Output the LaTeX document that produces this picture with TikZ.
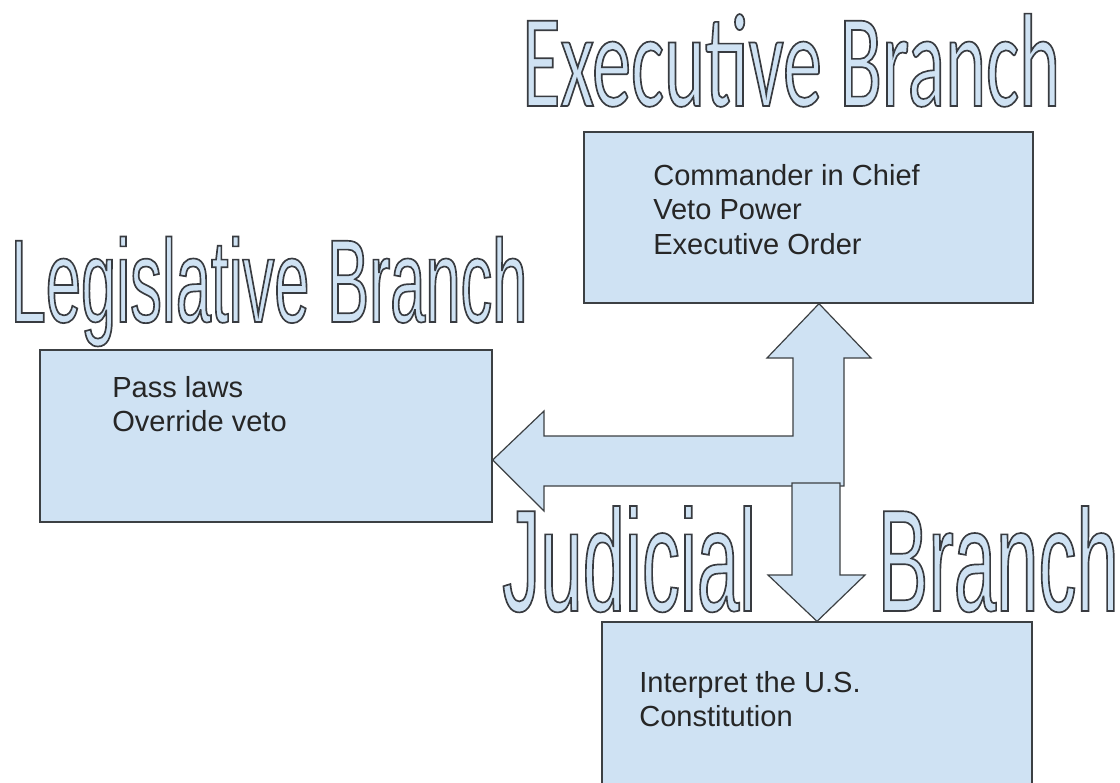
\documentclass[tikz,border=0pt]{standalone}
\usepackage{fontspec}
\setmainfont{Liberation Sans}
\newfontfamily\execfont[FakeStretch=0.587]{Carlito}
\newfontfamily\legfont[FakeStretch=0.536]{Liberation Sans}
\newfontfamily\judfont[FakeStretch=0.525]{Liberation Sans}
\definecolor{panel}{HTML}{CFE2F3}
\definecolor{rim}{HTML}{3C4043}
% hollow lettering: glyphs filled with the text colour and stroked in dark grey
\newcommand\hollow[1]{\special{pdf:literal direct 0.22 0.23 0.25 RG 1.25 w 2 Tr}#1\special{pdf:literal direct 0 Tr}}
\tikzset{
  panelbox/.style={draw=rim, fill=panel, line width=1pt, inner sep=0pt},
  bigarrow/.style={draw=rim, fill=panel, line width=0.9pt, line join=miter},
  heading/.style={anchor=base west, inner sep=0pt, text=panel},
  items/.style={anchor=base west, inner sep=0pt, text=black!85,
    font=\fontsize{21.8pt}{25.9pt}\selectfont},
}
\begin{document}
\begin{tikzpicture}[x=0.75pt, y=-0.75pt]
\useasboundingbox (0,0) rectangle (1120,782);

% the three branch panels
\node[panelbox, minimum width=336.75pt, minimum height=128.25pt] (exec) at (808.5,217.5) {};
\node[panelbox, minimum width=339pt, minimum height=129pt] (leg) at (266,436) {};
\node[panelbox, minimum width=322.5pt, minimum height=133.5pt] (jud) at (817,711) {};

% powers listed in each panel
\node[items] (exectext) at (653,185) {\parbox[t]{300pt}{\raggedright\baselineskip=25.9pt Commander in Chief\\Veto Power\\Executive Order}};
\node[items] (legtext) at (112,397) {\parbox[t]{300pt}{\raggedright\baselineskip=25.9pt Pass laws\\Override veto}};
\node[items] (judtext) at (639,692) {\parbox[t]{300pt}{\raggedright\baselineskip=25.9pt Interpret the U.S.\\Constitution}};

% headings
\node[heading, font=\execfont\fontsize{99.75pt}{100pt}\selectfont] (exechead) at (522,106) {\hollow{Executive Branch}};
\node[heading, font=\legfont\fontsize{88.5pt}{89pt}\selectfont] (leghead) at (10.4,322) {\hollow{Legislative Branch}};
\node[heading, font=\judfont\fontsize{108.75pt}{109pt}\selectfont] (judhead) at (502,611) {\hollow{Judicial\hspace{91.2pt}Branch}};

% tips of the block arrows, taken from the panels they point at
\coordinate (upx) at (819,0);
\coordinate (downx) at (817,0);
\coordinate (lefty) at (0,460);
\coordinate (uptip) at (upx |- exec.south);
\coordinate (lefttip) at (leg.east |- lefty);
\coordinate (downtip) at (downx |- jud.north);

% bent arrow: up to the executive, left to the legislative
\draw[bigarrow] (uptip) -- (871,358) -- (844,358) -- (844,486) -- (544,486)
  -- (544,511) -- (lefttip) -- (544,411) -- (544,436) -- (793,436)
  -- (793,358) -- (767,358) -- cycle;
% arrow down to the judicial
\draw[bigarrow] (792,483) -- (840,483) -- (840,575) -- (865,575)
  -- (downtip) -- (768,575) -- (792,575) -- cycle;
\end{tikzpicture}
\end{document}
